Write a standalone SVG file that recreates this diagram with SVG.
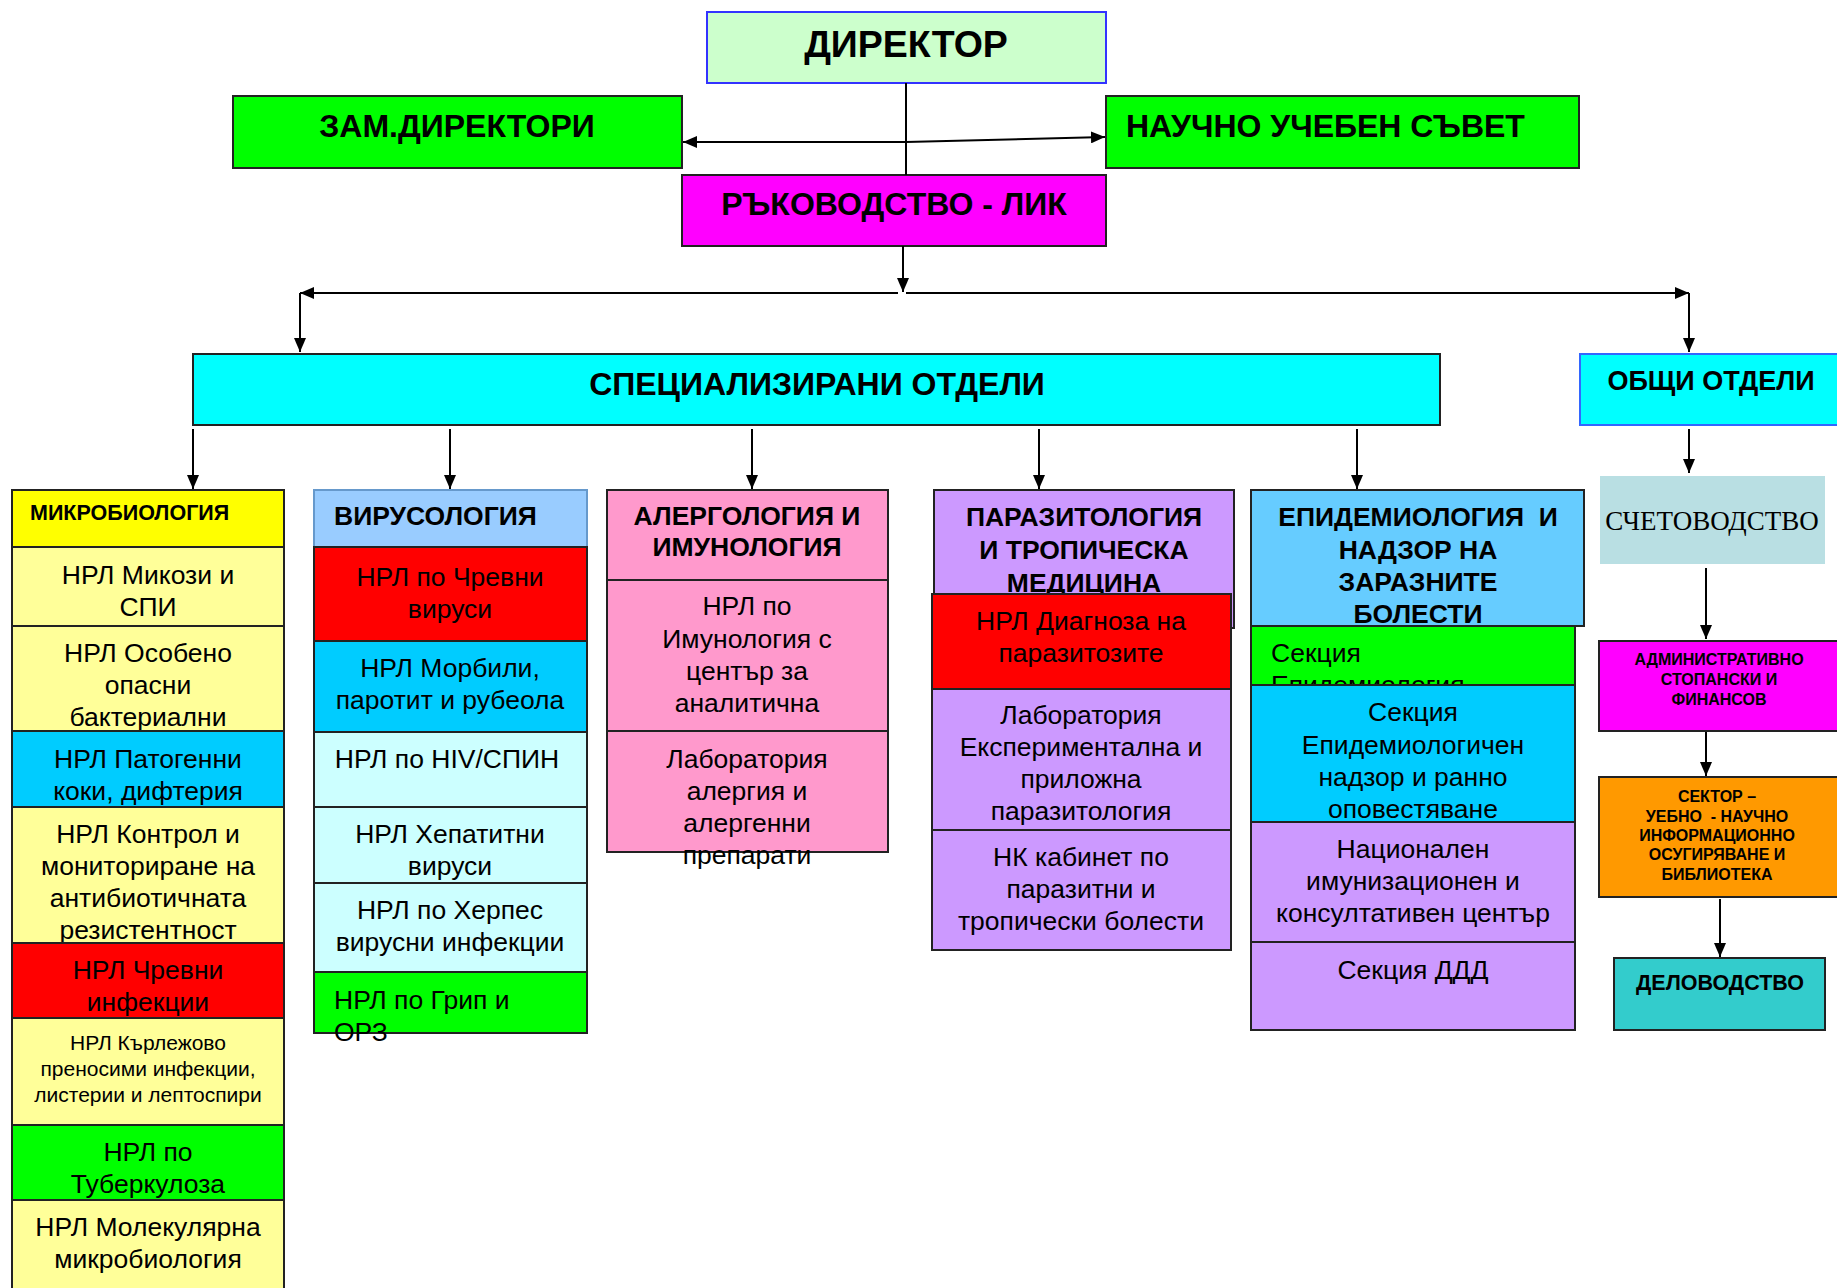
<svg xmlns="http://www.w3.org/2000/svg" width="1837" height="1288" viewBox="0 0 1837 1288">
<style>
text{font-family:"Liberation Sans",Arial,sans-serif;fill:#000;text-anchor:middle}
.b{font-weight:bold}
.t31{font-size:32px}
.t24{font-size:26.5px}
.t20{font-size:21px}
.t15{font-size:16px}
.box{stroke:#222;stroke-width:2}
.conn line,.conn path{stroke:#000;stroke-width:2;fill:none}
.st{text-anchor:start}
</style>
<defs>
<marker id="ah" viewBox="0 0 14 12" refX="14" refY="6" markerWidth="14" markerHeight="12" markerUnits="userSpaceOnUse" orient="auto">
<path d="M0,0 L14,6 L0,12 z" fill="#000"/>
</marker>
<clipPath id="clipImun"><rect x="607" y="580" width="281" height="151"/></clipPath>
<clipPath id="clipSek"><rect x="1251" y="626" width="324" height="59"/></clipPath>
</defs>
<rect width="1837" height="1288" fill="#fff"/>

<g id="director"><rect x="707" y="12" width="399" height="71" fill="#CCFFCC" stroke="#3333FF" stroke-width="2"/><text x="906" y="57" class="b" font-size="37.5">ДИРЕКТОР</text></g>
<g id="zam"><rect x="233" y="96" width="449" height="72" fill="#00FF00" class="box"/><text x="457" y="137" class="b t31">ЗАМ.ДИРЕКТОРИ</text></g>
<g id="nus"><rect x="1106" y="96" width="473" height="72" fill="#00FF00" class="box"/><text x="1126" y="137" class="b t31 st">НАУЧНО УЧЕБЕН СЪВЕТ</text></g>
<g id="lik"><rect x="682" y="175" width="424" height="71" fill="#FF00FF" class="box"/><text x="894" y="215" class="b t31">РЪКОВОДСТВО - ЛИК</text></g>

<g id="spec"><rect x="193" y="354" width="1247" height="71" fill="#00FFFF" class="box"/><text x="817" y="395" class="b" font-size="32">СПЕЦИАЛИЗИРАНИ ОТДЕЛИ</text></g>
<g id="obshti"><rect x="1580" y="354" width="262" height="71" fill="#00FFFF" stroke="#3366FF" stroke-width="2"/><text x="1711" y="390" class="b" font-size="27">ОБЩИ ОТДЕЛИ</text></g>

<g id="conn" class="conn">
<line x1="906" y1="83" x2="906" y2="175"/>
<line x1="906" y1="142" x2="683" y2="142" marker-end="url(#ah)"/>
<line x1="906" y1="142" x2="1105" y2="137" marker-end="url(#ah)"/>
<line x1="903" y1="246" x2="903" y2="292" marker-end="url(#ah)"/>
<line x1="898" y1="293" x2="300" y2="293" marker-end="url(#ah)"/>
<line x1="906" y1="293" x2="1689" y2="293" marker-end="url(#ah)"/>
<line x1="300" y1="293" x2="300" y2="352" marker-end="url(#ah)"/>
<line x1="1689" y1="293" x2="1689" y2="352" marker-end="url(#ah)"/>
<line x1="193" y1="429" x2="193" y2="489" marker-end="url(#ah)"/>
<line x1="450" y1="429" x2="450" y2="489" marker-end="url(#ah)"/>
<line x1="752" y1="429" x2="752" y2="489" marker-end="url(#ah)"/>
<line x1="1039" y1="429" x2="1039" y2="489" marker-end="url(#ah)"/>
<line x1="1357" y1="429" x2="1357" y2="489" marker-end="url(#ah)"/>
<line x1="1689" y1="429" x2="1689" y2="473" marker-end="url(#ah)"/>
<line x1="1706" y1="568" x2="1706" y2="639" marker-end="url(#ah)"/>
<line x1="1706" y1="732" x2="1706" y2="776" marker-end="url(#ah)"/>
<line x1="1720" y1="899" x2="1720" y2="957" marker-end="url(#ah)"/>
</g>

<!-- Column 1 -->
<g id="mikro"><rect x="12" y="490" width="272" height="57" fill="#FFFF00" class="box"/><text x="30" y="520" class="b st" font-size="21.5">МИКРОБИОЛОГИЯ</text></g>
<g id="mikozi"><rect x="12" y="547" width="272" height="79" fill="#FFFF99" class="box"/><text x="148" y="584" class="t24">НРЛ Микози и</text><text x="148" y="616" class="t24">СПИ</text></g>
<g id="osobeno"><rect x="12" y="626" width="272" height="105" fill="#FFFF99" class="box"/><text x="148" y="662" class="t24">НРЛ Особено</text><text x="148" y="694" class="t24">опасни</text><text x="148" y="726" class="t24">бактериални</text></g>
<g id="patogenni"><rect x="12" y="731" width="272" height="76" fill="#00CCFF" class="box"/><text x="148" y="768" class="t24">НРЛ Патогенни</text><text x="148" y="800" class="t24">коки, дифтерия</text></g>
<g id="kontrol"><rect x="12" y="807" width="272" height="136" fill="#FFFF99" class="box"/><text x="148" y="843" class="t24">НРЛ Контрол и</text><text x="148" y="875" class="t24">мониториране на</text><text x="148" y="907" class="t24">антибиотичната</text><text x="148" y="939" class="t24">резистентност</text></g>
<g id="chrevni"><rect x="12" y="943" width="272" height="75" fill="#FF0000" class="box"/><text x="148" y="979" class="t24">НРЛ Чревни</text><text x="148" y="1011" class="t24">инфекции</text></g>
<g id="karlezhovo"><rect x="12" y="1018" width="272" height="107" fill="#FFFF99" class="box"/><text x="148" y="1050" class="t20">НРЛ Кърлежово</text><text x="148" y="1076" class="t20">преносими инфекции,</text><text x="148" y="1102" class="t20">листерии и лептоспири</text></g>
<g id="tuberkuloza"><rect x="12" y="1125" width="272" height="75" fill="#00FF00" class="box"/><text x="148" y="1161" class="t24">НРЛ по</text><text x="148" y="1193" class="t24">Туберкулоза</text></g>
<g id="molekulyarna"><rect x="12" y="1200" width="272" height="95" fill="#FFFF99" class="box"/><text x="148" y="1236" class="t24">НРЛ Молекулярна</text><text x="148" y="1268" class="t24">микробиология</text></g>

<!-- Column 2 -->
<g id="viruso"><rect x="314" y="490" width="273" height="57" fill="#99CCFF" stroke="#6699CC" stroke-width="2"/><text x="334" y="525" class="b st" font-size="26.5">ВИРУСОЛОГИЯ</text></g>
<g id="chrevnivirusi"><rect x="314" y="547" width="273" height="94" fill="#FF0000" class="box"/><text x="450" y="586" class="t24">НРЛ по Чревни</text><text x="450" y="618" class="t24">вируси</text></g>
<g id="morbili"><rect x="314" y="641" width="273" height="91" fill="#00CCFF" class="box"/><text x="450" y="677" class="t24">НРЛ Морбили,</text><text x="450" y="709" class="t24">паротит и рубеола</text></g>
<g id="hiv"><rect x="314" y="732" width="273" height="75" fill="#CCFFFF" class="box"/><text x="447" y="768" class="t24">НРЛ по HIV/СПИН</text></g>
<g id="hepatitni"><rect x="314" y="807" width="273" height="76" fill="#CCFFFF" class="box"/><text x="450" y="843" class="t24">НРЛ Хепатитни</text><text x="450" y="875" class="t24">вируси</text></g>
<g id="herpes"><rect x="314" y="883" width="273" height="89" fill="#CCFFFF" class="box"/><text x="450" y="919" class="t24">НРЛ по Херпес</text><text x="450" y="951" class="t24">вирусни инфекции</text></g>
<g id="grip"><rect x="314" y="972" width="273" height="61" fill="#00FF00" class="box"/><text x="334" y="1009" class="t24 st">НРЛ по Грип и</text><text x="334" y="1041" class="t24 st">ОРЗ</text></g>

<!-- Column 3 -->
<g id="alergo"><rect x="607" y="490" width="281" height="90" fill="#FF99CC" class="box"/><text x="747" y="525" class="b t24">АЛЕРГОЛОГИЯ И</text><text x="747" y="556" class="b t24">ИМУНОЛОГИЯ</text></g>
<g id="imunologia"><rect x="607" y="580" width="281" height="151" fill="#FF99CC" class="box"/><text x="747" y="615" class="t24">НРЛ по</text><text x="747" y="648" class="t24">Имунология с</text><text x="747" y="680" class="t24">център за</text><text x="747" y="712" class="t24">аналитична</text><text x="747" y="744" class="t24" clip-path="url(#clipImun)">цитометрия</text></g>
<g id="alergia"><rect x="607" y="731" width="281" height="121" fill="#FF99CC" class="box"/><text x="747" y="768" class="t24">Лаборатория</text><text x="747" y="800" class="t24">алергия и</text><text x="747" y="832" class="t24">алергенни</text><text x="747" y="864" class="t24">препарати</text></g>

<!-- Column 4 -->
<g id="parazito"><rect x="934" y="490" width="300" height="138" fill="#CC99FF" class="box"/><text x="1084" y="526" class="b t24">ПАРАЗИТОЛОГИЯ</text><text x="1084" y="559" class="b t24">И ТРОПИЧЕСКА</text><text x="1084" y="592" class="b t24">МЕДИЦИНА</text></g>
<g id="diagnoza"><rect x="932" y="594" width="299" height="95" fill="#FF0000" class="box"/><text x="1081" y="630" class="t24">НРЛ Диагноза на</text><text x="1081" y="662" class="t24">паразитозите</text></g>
<g id="eksperimentalna"><rect x="932" y="689" width="299" height="141" fill="#CC99FF" class="box"/><text x="1081" y="724" class="t24">Лаборатория</text><text x="1081" y="756" class="t24">Експериментална и</text><text x="1081" y="788" class="t24">приложна</text><text x="1081" y="820" class="t24">паразитология</text></g>
<g id="nkkabinet"><rect x="932" y="830" width="299" height="120" fill="#CC99FF" class="box"/><text x="1081" y="866" class="t24">НК кабинет по</text><text x="1081" y="898" class="t24">паразитни и</text><text x="1081" y="930" class="t24">тропически болести</text></g>

<!-- Column 5 -->
<g id="epidemio"><rect x="1251" y="490" width="333" height="136" fill="#66CCFF" class="box"/><text x="1418" y="526" class="b t24" xml:space="preserve">ЕПИДЕМИОЛОГИЯ  И</text><text x="1418" y="559" class="b t24">НАДЗОР НА</text><text x="1418" y="591" class="b t24">ЗАРАЗНИТЕ</text><text x="1418" y="623" class="b t24">БОЛЕСТИ</text></g>
<g id="sekciaepid"><rect x="1251" y="626" width="324" height="59" fill="#00FF00" class="box"/><text x="1271" y="662" class="t24 st">Секция</text><text x="1271" y="694" class="t24 st" clip-path="url(#clipSek)">Епидемиология</text></g>
<g id="nadzor"><rect x="1251" y="685" width="324" height="137" fill="#00CCFF" class="box"/><text x="1413" y="721" class="t24">Секция</text><text x="1413" y="754" class="t24">Епидемиологичен</text><text x="1413" y="786" class="t24">надзор и ранно</text><text x="1413" y="818" class="t24">оповестяване</text></g>
<g id="imunizacionen"><rect x="1251" y="822" width="324" height="120" fill="#CC99FF" class="box"/><text x="1413" y="858" class="t24">Национален</text><text x="1413" y="890" class="t24">имунизационен и</text><text x="1413" y="922" class="t24">консултативен център</text></g>
<g id="ddd"><rect x="1251" y="942" width="324" height="88" fill="#CC99FF" class="box"/><text x="1413" y="979" class="t24">Секция ДДД</text></g>

<!-- Right column -->
<g id="schetovodstvo"><rect x="1600" y="476" width="225" height="88" fill="#B9DFE3"/><text x="1712" y="530" style="font-family:'Liberation Serif',serif" font-size="27" fill="#333">СЧЕТОВОДСТВО</text></g>
<g id="administrativno"><rect x="1599" y="641" width="242" height="90" fill="#FF00FF" class="box"/><text x="1719" y="665" class="b t15">АДМИНИСТРАТИВНО</text><text x="1719" y="685" class="b t15">СТОПАНСКИ И</text><text x="1719" y="705" class="b t15">ФИНАНСОВ</text></g>
<g id="sektor"><rect x="1599" y="777" width="240" height="120" fill="#FF9900" class="box"/><text x="1717" y="802" class="b t15">СЕКТОР –</text><text x="1717" y="822" class="b t15" xml:space="preserve">УЕБНО  - НАУЧНО</text><text x="1717" y="841" class="b t15">ИНФОРМАЦИОННО</text><text x="1717" y="860" class="b t15">ОСУГИРЯВАНЕ И</text><text x="1717" y="880" class="b t15">БИБЛИОТЕКА</text></g>
<g id="delovodstvo"><rect x="1614" y="958" width="211" height="72" fill="#33CCCC" class="box"/><text x="1720" y="990" class="b" font-size="21.5">ДЕЛОВОДСТВО</text></g>
</svg>
